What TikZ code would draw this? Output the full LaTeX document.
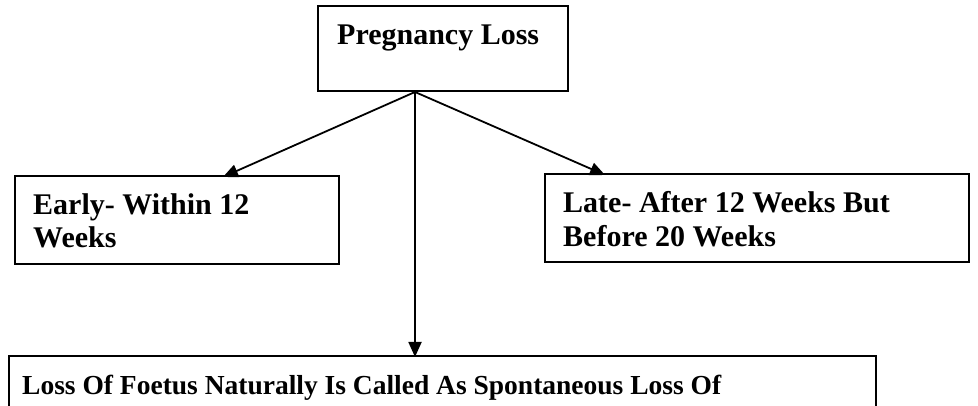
\documentclass[tikz,border=0pt]{standalone}
\usepackage{fontspec}
\setmainfont{Liberation Serif}
\usetikzlibrary{arrows.meta}
\begin{document}
\begin{tikzpicture}[x=1pt,y=1pt,
  box/.style={draw=black, line width=2pt, anchor=south west, inner sep=0pt},
  lbl/.style={anchor=base west, inner sep=0pt, font=\fontsize{30}{34}\selectfont\bfseries},
  conn/.style={line width=1.8pt, -{Triangle[length=15pt,width=13pt]}}]
\useasboundingbox (0,0) rectangle (978,406);
\clip (0,0) rectangle (978,406);
\fill[white] (0,0) rectangle (978,406);
% boxes
\node[box, minimum width=250pt, minimum height=85pt] (top) at (317,314) {};
\node[box, minimum width=324pt, minimum height=88pt] (early) at (14,141) {};
\node[box, minimum width=424pt, minimum height=88pt] (late) at (544,143) {};
\node[box, minimum width=867pt, minimum height=90pt] (bottom) at (8,-41) {};
% texts
\node[lbl] (ttop) at (337,361) {Pregnancy Loss};
\node[lbl] (tearly1) at (33,191) {Early- Within 12};
\node[lbl] (tearly2) at (33,158) {Weeks};
\node[lbl] (tlate1) at (563,193) {Late- After 12 Weeks But};
\node[lbl] (tlate2) at (563,159) {Before 20 Weeks};
\node[lbl, font=\fontsize{27.5}{32}\selectfont\bfseries] (tbottom) at (22,11) {Loss Of Foetus Naturally Is Called As Spontaneous Loss Of};
% connector points
\coordinate (v) at (415,314);
\coordinate (ea) at (223,229);
\coordinate (la) at (605,231);
\coordinate (ba) at (415,49);
\draw[conn] (v) -- (ea);
\draw[conn] (v) -- (la);
\draw[conn] (v) -- (ba);
\end{tikzpicture}
\end{document}
